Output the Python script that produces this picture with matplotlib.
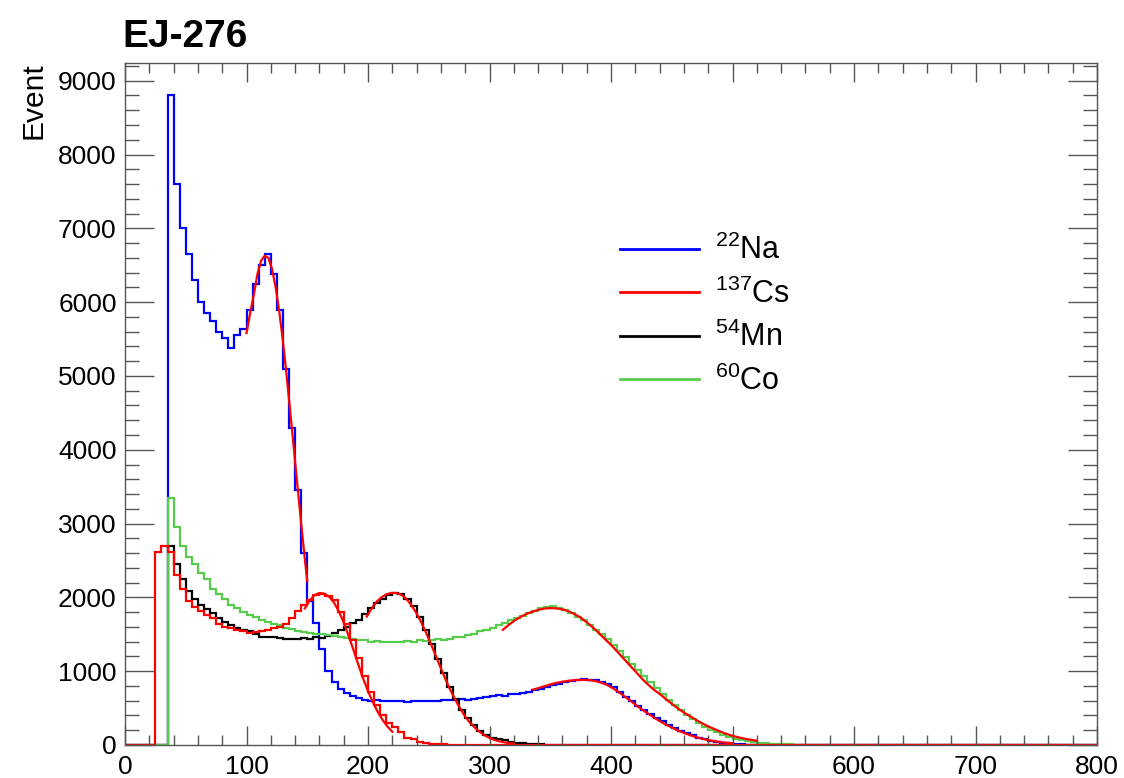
import numpy as np
import matplotlib
matplotlib.use("Agg")
import matplotlib.pyplot as plt
from matplotlib.ticker import MultipleLocator

plt.rcParams['font.family'] = ['Liberation Sans', 'DejaVu Sans']
plt.rcParams['mathtext.fontset'] = 'custom'
plt.rcParams['mathtext.rm'] = 'Liberation Sans'

# histogram binning: 5 units per bin, values listed from x=0 up to where counts vanish
bin_width = 5
x_max = 800

na22 = [0, 0, 0, 0, 0, 0, 0, 8800, 7600, 7000, 6650, 6300, 6000, 5850, 5750, 5600,
        5520, 5380, 5560, 5640, 5900, 6250, 6500, 6650, 6380, 5900, 5100, 4300, 3450, 2600,
        1950, 1650, 1300, 1000, 850, 760, 700, 660, 640, 610, 600, 610, 595, 600, 590,
        600, 585, 600, 590, 595, 590, 600, 610, 605, 615, 620, 615, 630, 640, 650,
        660, 675, 670, 690, 690, 710, 720, 740, 760, 780, 810, 830, 850, 865, 880,
        890, 885, 880, 860, 825, 780, 720, 650, 590, 530, 470, 420, 370, 320, 275,
        230, 190, 160, 130, 100, 78, 58, 42, 30, 22, 15, 10, 6, 4, 2]

cs137 = [0, 0, 0, 0, 0, 2620, 2700, 2620, 2300, 2120, 1950, 1870, 1820, 1760, 1720,
         1640, 1600, 1580, 1560, 1540, 1520, 1530, 1540, 1560, 1580, 1600, 1640, 1720, 1820, 1900,
         1970, 2030, 2050, 2020, 1960, 1800, 1640, 1420, 1180, 940, 720, 540, 400, 300, 250,
         180, 100, 80, 45, 30, 20, 12, 8, 5, 3]

mn54 = [0, 0, 0, 0, 0, 0, 0, 2700, 2450, 2250, 2080, 1980, 1900, 1840, 1790,
        1720, 1660, 1620, 1590, 1560, 1540, 1500, 1470, 1460, 1470, 1450, 1440, 1430, 1440, 1450,
        1440, 1460, 1450, 1480, 1520, 1560, 1600, 1650, 1700, 1770, 1850, 1920, 1980, 2030, 2060,
        2040, 1980, 1880, 1730, 1560, 1370, 1170, 970, 790, 620, 480, 360, 270, 190, 135,
        95, 85, 62, 45, 32, 22, 15, 10, 7, 5, 3, 2]

co60 = [0, 0, 0, 0, 0, 0, 0, 3350, 2950, 2700, 2550, 2450, 2330, 2250, 2120,
        2050, 1980, 1900, 1850, 1800, 1760, 1730, 1700, 1670, 1640, 1620, 1590, 1570, 1550, 1530,
        1520, 1510, 1500, 1490, 1480, 1460, 1450, 1440, 1420, 1420, 1400, 1410, 1390, 1400, 1390,
        1400, 1410, 1400, 1420, 1410, 1420, 1430, 1420, 1440, 1460, 1470, 1490, 1510, 1540, 1560,
        1590, 1620, 1650, 1690, 1720, 1750, 1790, 1820, 1860, 1870, 1880, 1860, 1830, 1790, 1740,
        1690, 1630, 1560, 1500, 1430, 1350, 1270, 1190, 1100, 1020, 940, 850, 770, 690, 610,
        540, 470, 410, 350, 300, 250, 210, 170, 140, 110, 88, 68, 52, 40, 30,
        22, 16, 12, 9, 7, 5, 4, 3, 2, 1, 1]

# fitted curves (x, y)
fit_na1_x = [100, 103, 106, 109, 112, 115, 118, 121, 124, 127, 130, 133, 136, 139, 142, 145, 148, 150]
fit_na1_y = [5580, 5850, 6100, 6380, 6560, 6630, 6600, 6450, 6200, 5870, 5470, 5010, 4520, 4010,
             3500, 3000, 2520, 2220]
fit_cs_x = [148, 152, 156, 160, 164, 168, 172, 176, 180, 184, 188, 192, 196, 200, 204, 208, 212, 216, 220]
fit_cs_y = [1850, 1960, 2030, 2060, 2050, 2010, 1930, 1810, 1660, 1480, 1290, 1090, 900, 730,
            580, 450, 340, 250, 180]
fit_mn_x = [199, 203, 207, 211, 215, 219, 223, 227, 231, 235, 239, 243, 247, 251, 255, 259, 263,
            267, 271, 275, 279, 283, 287, 291, 295, 299, 303, 307, 311, 315, 320]
fit_mn_y = [1740, 1850, 1940, 2000, 2040, 2060, 2060, 2040, 1990, 1910, 1810, 1690, 1550, 1400,
            1240, 1080, 920, 770, 640, 520, 410, 320, 250, 190, 140, 105, 75, 55, 40, 28, 18]
fit_co_x = [311, 316, 321, 326, 331, 336, 341, 346, 351, 356, 361, 366, 371, 376, 381, 386, 391,
            396, 401, 406, 411, 416, 421, 426, 431, 436, 441, 446, 451, 456, 461, 466, 471, 476,
            481, 486, 491, 496, 501, 506, 511, 516, 520]
fit_co_y = [1560, 1630, 1690, 1740, 1780, 1810, 1835, 1850, 1855, 1850, 1835, 1805, 1765, 1715,
            1650, 1580, 1500, 1420, 1340, 1250, 1160, 1070, 980, 890, 810, 740, 680, 610, 545,
            485, 430, 380, 330, 285, 245, 210, 175, 145, 120, 100, 82, 68, 58]
fit_na2_x = [336, 341, 346, 351, 356, 361, 366, 371, 376, 381, 386, 391, 396, 401, 406, 411, 416,
             421, 426, 431, 436, 441, 446, 451, 456, 461, 466, 471, 476, 481, 486, 491, 496, 500]
fit_na2_y = [750, 775, 800, 825, 845, 860, 872, 880, 883, 880, 870, 850, 820, 775, 720, 660, 600,
             535, 475, 420, 365, 315, 270, 228, 190, 158, 128, 103, 82, 64, 50, 38, 29, 23]

labels = [r'$\mathregular{^{22}}$Na', r'$\mathregular{^{137}}$Cs',
          r'$\mathregular{^{54}}$Mn', r'$\mathregular{^{60}}$Co']
colors = ['#0000ff', '#ff0000', '#000000', '#57cc4c']

edges = np.arange(0, x_max + bin_width, bin_width)
nbins = len(edges) - 1

def padded(vals):
    out = np.zeros(nbins)
    out[:len(vals)] = vals
    return out

fig = plt.figure(figsize=(11.24, 7.78), dpi=100)
ax = fig.add_axes([125 / 1124, 33 / 778, 972 / 1124, 682 / 778])

series = {'na': na22, 'mn': mn54, 'co': co60, 'cs': cs137}
order = [('na', 0), ('mn', 2), ('co', 3), ('cs', 1)]
handles = {}
for key, idx in order:
    ax.stairs(padded(series[key]), edges, color=colors[idx], lw=1.6, baseline=None)
    handles[idx] = ax.plot([], [], color=colors[idx], lw=2)[0]

for fx, fy in [(fit_na1_x, fit_na1_y), (fit_cs_x, fit_cs_y), (fit_mn_x, fit_mn_y),
               (fit_co_x, fit_co_y), (fit_na2_x, fit_na2_y)]:
    ax.plot(fx, fy, color='#ff0000', lw=1.6)

ax.set_xlim(0, 800)
ax.set_ylim(0, 9240)
ax.xaxis.set_major_locator(MultipleLocator(100))
ax.xaxis.set_minor_locator(MultipleLocator(20))
ax.yaxis.set_major_locator(MultipleLocator(1000))
ax.yaxis.set_minor_locator(MultipleLocator(200))
ax.tick_params(which='both', direction='in', top=True, right=True, labelsize=19,
               color='#555555', width=1)
ax.tick_params(axis='x', which='major', length=14, pad=7)
ax.tick_params(axis='x', which='minor', length=7)
ax.tick_params(axis='y', which='major', length=21, pad=6)
ax.tick_params(axis='y', which='minor', length=10)
for s in ax.spines.values():
    s.set_color('#555555')
    s.set_linewidth(1)

leg = ax.legend([handles[i] for i in range(4)], labels, loc='upper left',
                bbox_to_anchor=(0.481, 0.788), frameon=False, fontsize=22,
                handlelength=2.6, handletextpad=0.52, labelspacing=0.4)

fig.text(122 / 1124, 1 - 47 / 778, 'EJ-276', fontsize=28, fontweight='bold', va='baseline')
fig.text(34 / 1124, 1 - 62 / 778, 'Event', fontsize=21.5, rotation=90, ha='center', va='top')

fig.savefig('out.png', dpi=100)
